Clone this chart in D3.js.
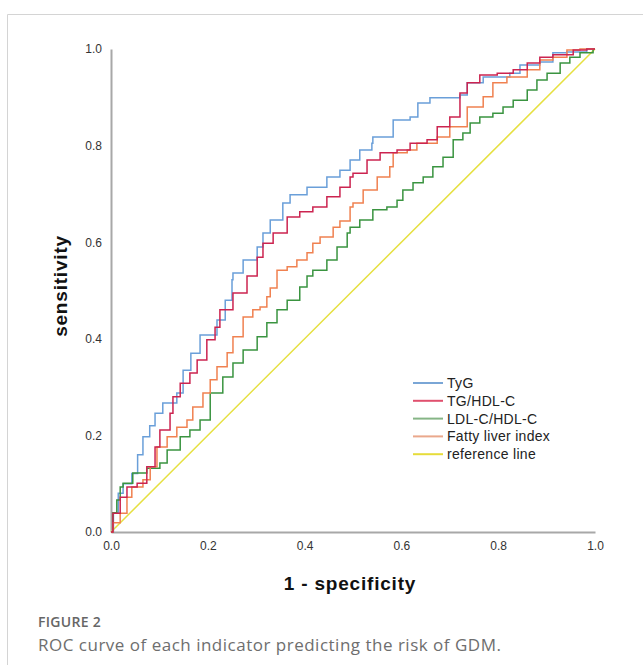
<!DOCTYPE html>
<html>
<head>
<meta charset="utf-8">
<script src="https://cdn.jsdelivr.net/npm/d3@7"></script>
<style>
  body { margin: 0; background: #fff; }
  svg { display: block; }
</style>
</head>
<body>
<div id="chart"></div>
<script>
// ROC points: [1 - specificity, sensitivity]
const tygPoints = [[0,0],[0.005,0.04],[0.015,0.08],[0.025,0.10],[0.043,0.121],[0.055,0.16],[0.066,0.197],[0.08,0.22],[0.091,0.246],[0.107,0.267],[0.136,0.288],[0.149,0.335],[0.165,0.37],[0.184,0.408],[0.205,0.408],[0.219,0.439],[0.236,0.48],[0.25,0.522],[0.252,0.536],[0.273,0.563],[0.302,0.59],[0.314,0.619],[0.329,0.646],[0.355,0.681],[0.37,0.698],[0.405,0.714],[0.446,0.735],[0.473,0.749],[0.494,0.77],[0.514,0.791],[0.539,0.805],[0.541,0.818],[0.57,0.818],[0.583,0.853],[0.618,0.859],[0.634,0.888],[0.659,0.899],[0.694,0.899],[0.721,0.905],[0.736,0.93],[0.769,0.942],[0.824,0.95],[0.845,0.967],[0.886,0.973],[0.913,0.992],[0.942,0.994],[0.983,1],[1,1]];
const tgHdlPoints = [[0,0],[0.004,0.039],[0.019,0.072],[0.033,0.093],[0.054,0.101],[0.074,0.135],[0.091,0.176],[0.101,0.211],[0.122,0.246],[0.128,0.28],[0.143,0.308],[0.163,0.329],[0.178,0.356],[0.198,0.398],[0.215,0.424],[0.225,0.46],[0.252,0.495],[0.281,0.53],[0.302,0.569],[0.314,0.598],[0.335,0.619],[0.364,0.652],[0.39,0.663],[0.417,0.673],[0.446,0.694],[0.473,0.714],[0.494,0.735],[0.5,0.743],[0.529,0.77],[0.556,0.785],[0.591,0.791],[0.618,0.805],[0.653,0.812],[0.674,0.839],[0.7,0.859],[0.721,0.909],[0.736,0.93],[0.762,0.946],[0.798,0.95],[0.831,0.957],[0.86,0.971],[0.886,0.983],[0.913,0.988],[0.955,0.998],[0.983,1],[1,1]];
const ldlHdlPoints = [[0,0],[0.004,0.04],[0.012,0.066],[0.019,0.093],[0.025,0.101],[0.045,0.122],[0.074,0.132],[0.101,0.143],[0.116,0.17],[0.143,0.197],[0.163,0.211],[0.184,0.232],[0.205,0.288],[0.231,0.321],[0.252,0.35],[0.273,0.377],[0.302,0.404],[0.322,0.433],[0.343,0.46],[0.364,0.48],[0.39,0.507],[0.405,0.53],[0.417,0.542],[0.446,0.563],[0.467,0.59],[0.488,0.619],[0.494,0.631],[0.514,0.646],[0.541,0.667],[0.57,0.673],[0.591,0.687],[0.603,0.708],[0.624,0.723],[0.645,0.735],[0.665,0.756],[0.686,0.776],[0.707,0.812],[0.727,0.826],[0.742,0.847],[0.762,0.859],[0.789,0.867],[0.81,0.88],[0.831,0.894],[0.86,0.915],[0.88,0.936],[0.901,0.95],[0.928,0.971],[0.948,0.983],[0.969,0.992],[0.996,1],[1,1]];
const fattyLiverPoints = [[0,0],[0.004,0.019],[0.019,0.039],[0.033,0.072],[0.043,0.093],[0.066,0.108],[0.081,0.135],[0.095,0.176],[0.116,0.197],[0.136,0.217],[0.157,0.232],[0.169,0.259],[0.19,0.288],[0.205,0.315],[0.219,0.342],[0.24,0.371],[0.252,0.404],[0.273,0.445],[0.293,0.46],[0.308,0.466],[0.322,0.487],[0.329,0.505],[0.343,0.542],[0.364,0.549],[0.384,0.563],[0.405,0.578],[0.417,0.598],[0.432,0.611],[0.459,0.631],[0.473,0.644],[0.494,0.673],[0.5,0.681],[0.521,0.708],[0.55,0.735],[0.576,0.756],[0.583,0.785],[0.612,0.791],[0.632,0.805],[0.674,0.818],[0.7,0.839],[0.736,0.88],[0.769,0.901],[0.789,0.93],[0.818,0.942],[0.86,0.957],[0.886,0.977],[0.913,0.983],[0.942,0.998],[0.969,1],[1,1]];
const referencePoints = [[0,0],[1,1]];

const seriesNames = ["TyG", "TG/HDL-C", "LDL-C/HDL-C", "Fatty liver index", "reference line"];
const seriesColors = ["#6a9fd9", "#cc2450", "#3a9440", "#f08150", "#e6e040"];
const legendColors = ["#7aa6d6", "#e0506e", "#86b586", "#eaa88c", "#e6dc3a"];
const tickValues = [0, 0.2, 0.4, 0.6, 0.8, 1.0];

const W = 643, H = 665;
const margin = {left: 111, right: 48, top: 49, bottom: 133};
const width = W - margin.left - margin.right,
      height = H - margin.top - margin.bottom;
const sansFont = "'Liberation Sans', Arial, sans-serif";

const svg = d3.select("#chart").append("svg")
  .attr("width", W)
  .attr("height", H);

// card border (top and left)
svg.append("path")
  .attr("d", `M7.5,${H} V14.5 H${W}`)
  .attr("fill", "none")
  .attr("stroke", "#d4d4d4")
  .attr("stroke-width", 1);

const g = svg.append("g")
  .attr("transform", `translate(${margin.left}, ${margin.top})`);

const x = d3.scaleLinear().domain([0, 1]).range([0, width]);
const y = d3.scaleLinear().domain([0, 1]).range([height, 0]);

// axes, no tick marks
const xAxis = g.append("g")
  .attr("transform", `translate(0, ${height})`)
  .call(d3.axisBottom(x).tickValues(tickValues).tickFormat(d3.format(".1f")).tickSize(0).tickPadding(9));
const yAxis = g.append("g")
  .call(d3.axisLeft(y).tickValues(tickValues).tickFormat(d3.format(".1f")).tickSize(0).tickPadding(9));

[xAxis, yAxis].forEach(a => {
  a.select(".domain").attr("stroke", "#a8a8a8").attr("stroke-width", 2);
  a.selectAll("text")
    .attr("font-family", sansFont)
    .attr("font-size", "12px")
    .attr("fill", "#333");
});

// curves
const allSeries = [tygPoints, tgHdlPoints, ldlHdlPoints, fattyLiverPoints];
const stepLine = d3.line()
  .x(d => x(d[0]))
  .y(d => y(d[1]))
  .curve(d3.curveStepAfter);

g.append("path")
  .datum(referencePoints)
  .attr("d", d3.line().x(d => x(d[0])).y(d => y(d[1])))
  .attr("fill", "none")
  .attr("stroke", seriesColors[4])
  .attr("stroke-width", 1.5);

[0, 2, 3, 1].forEach(i => {
  g.append("path")
    .datum(allSeries[i])
    .attr("d", stepLine)
    .attr("fill", "none")
    .attr("stroke", seriesColors[i])
    .attr("stroke-width", 1.5);
});

// legend
const legend = svg.append("g").attr("transform", "translate(413, 383)");
seriesNames.forEach((name, i) => {
  const row = legend.append("g").attr("transform", `translate(0, ${i * 17.8})`);
  row.append("line")
    .attr("x1", 0).attr("x2", 30)
    .attr("stroke", legendColors[i])
    .attr("stroke-width", 2);
  row.append("text")
    .attr("x", 34)
    .attr("dy", "0.35em")
    .attr("font-family", sansFont)
    .attr("font-size", "14px")
    .attr("letter-spacing", "0.3px")
    .attr("fill", "#222")
    .text(name);
});

// axis titles
svg.append("text")
  .attr("x", 350)
  .attr("y", 590)
  .attr("text-anchor", "middle")
  .attr("font-family", sansFont)
  .attr("font-weight", "bold")
  .attr("font-size", "19px")
  .attr("letter-spacing", "0.8px")
  .attr("fill", "#111")
  .text("1 -  specificity");

svg.append("text")
  .attr("transform", "translate(67, 286) rotate(-90)")
  .attr("text-anchor", "middle")
  .attr("font-family", sansFont)
  .attr("font-weight", "bold")
  .attr("font-size", "19px")
  .attr("letter-spacing", "0.8px")
  .attr("fill", "#111")
  .text("sensitivity");

// caption
svg.append("text")
  .attr("x", 38)
  .attr("y", 627)
  .attr("font-family", "'Open Sans', sans-serif")
  .attr("font-weight", 600)
  .attr("font-size", "14px")
  .attr("letter-spacing", "0.3px")
  .attr("fill", "#666")
  .text("FIGURE 2");

svg.append("text")
  .attr("x", 38)
  .attr("y", 651)
  .attr("font-family", "'Open Sans', sans-serif")
  .attr("font-size", "17px")
  .attr("letter-spacing", "0.5px")
  .attr("fill", "#6e6e6e")
  .text("ROC curve of each indicator predicting the risk of GDM.");
</script>
</body>
</html>
